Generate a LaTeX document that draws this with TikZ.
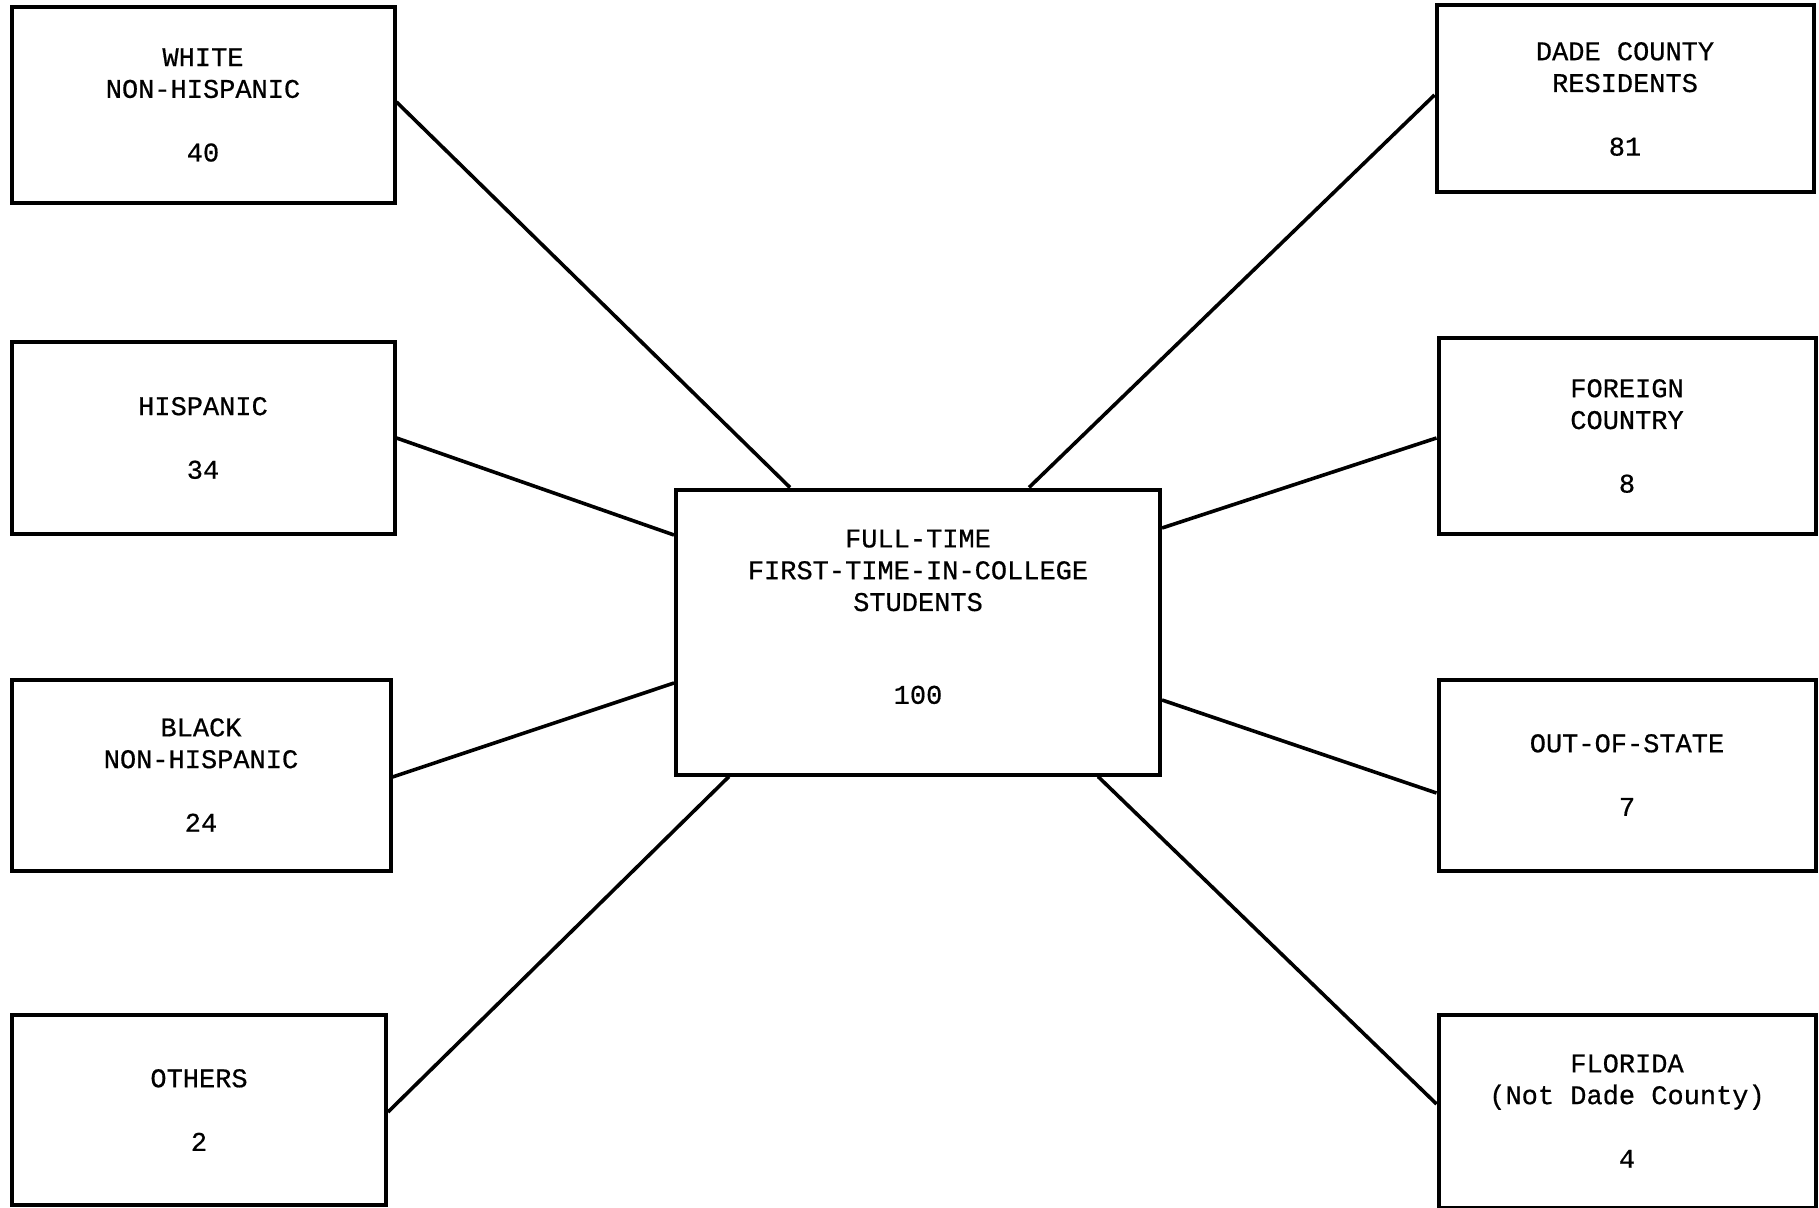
\documentclass[tikz,border=0pt]{standalone}
\usepackage{fontspec}
\setmonofont{Liberation Mono}[BoldFont={Liberation Mono}, BoldFeatures={FakeBold=0.6}]
\begin{document}
\begin{tikzpicture}[x=0.5pt,y=-0.5pt,
  box/.style={draw, line width=2pt, inner sep=0pt, align=center,
    font=\ttfamily\bfseries\fontsize{13.5}{15.9}\selectfont},
  link/.style={line width=1.8pt}]
\useasboundingbox (0,0) rectangle (1819,1208);
% left column
\node[box, minimum width=191.5pt, minimum height=98pt] (w) at (203,105) {WHITE\\NON-HISPANIC\\[15.9pt]40};
\node[box, minimum width=191.5pt, minimum height=96pt] (h) at (203,438) {HISPANIC\\[15.9pt]34};
\node[box, minimum width=189.5pt, minimum height=95.5pt] (b) at (201,775) {BLACK\\NON-HISPANIC\\[15.9pt]24};
\node[box, minimum width=187pt, minimum height=95pt] (o) at (199,1110) {OTHERS\\[15.9pt]2};
% centre
\node[box, minimum width=242pt, minimum height=142.5pt] (c) at (918,632) {FULL-TIME\\FIRST-TIME-IN-COLLEGE\\STUDENTS\\[30.5pt]100\\[-0.6pt]};
% right column
\node[box, minimum width=188.5pt, minimum height=93.5pt] (d) at (1625,99) {DADE COUNTY\\RESIDENTS\\[15.9pt]81};
\node[box, minimum width=188.5pt, minimum height=97.5pt] (f) at (1627,436) {FOREIGN\\COUNTRY\\[15.9pt]8};
\node[box, minimum width=188.5pt, minimum height=95.5pt] (s) at (1627,775) {OUT-OF-STATE\\[15.9pt]7};
\node[box, minimum width=188.5pt, minimum height=96.5pt] (fl) at (1627,1111) {FLORIDA\\(Not Dade County)\\[15.9pt]4};
% connectors
\draw[link] ([yshift=1.5pt]w.east) -- ([xshift=58pt]c.north west);
\draw[link] (h.east) -- ([yshift=48.5pt]c.west);
\draw[link] ([yshift=-1pt]b.east) -- ([yshift=-25.5pt]c.west);
\draw[link] ([yshift=-1pt]o.east) -- ([xshift=27.5pt]c.south west);
\draw[link] ([yshift=2pt]d.west) -- ([xshift=-66.5pt]c.north east);
\draw[link] ([yshift=-1pt]f.west) -- ([yshift=52pt]c.east);
\draw[link] ([yshift=-9pt]s.west) -- ([yshift=-34pt]c.east);
\draw[link] ([yshift=3.5pt]fl.west) -- ([xshift=-32pt]c.south east);
\end{tikzpicture}
\end{document}
